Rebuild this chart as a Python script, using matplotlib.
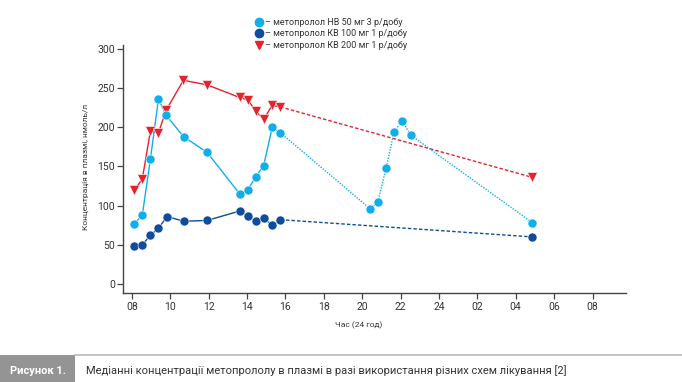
import matplotlib
matplotlib.use("Agg")
import matplotlib.pyplot as plt
from matplotlib.lines import Line2D
from matplotlib.patches import Rectangle

plt.rcParams['font.family'] = ['Roboto', 'DejaVu Sans']

# години від початку доби (08 = 8, наступна доба 02 = 26 ...)
hours_nv50 = [8.14, 8.55, 8.97, 9.39, 9.8, 10.7, 11.92, 13.62, 14.04, 14.46, 14.87, 15.32, 15.74,
              20.41, 20.81, 21.25, 21.66, 22.08, 22.53, 28.87]
conc_nv50 = [77, 88, 159, 236, 215, 188, 168, 115, 120, 137, 151, 200, 193,
             96, 104, 148, 194, 208, 190, 78]

hours_kv100 = [8.14, 8.55, 8.97, 9.39, 9.84, 10.7, 11.92, 13.62, 14.04, 14.46, 14.87, 15.32, 15.74, 28.87]
conc_kv100 = [48, 50, 62, 71, 86, 80, 81, 93, 87, 80, 84, 75, 82, 60]

hours_kv200 = [8.14, 8.55, 8.97, 9.39, 9.8, 10.69, 11.94, 13.62, 14.04, 14.46, 14.87, 15.31, 15.73, 28.87]
conc_kv200 = [120, 134, 195, 193, 222, 260, 254, 238, 235, 221, 210, 228, 226, 136]

n_solid = 13  # перші 13 точок з'єднані суцільною лінією

x_ticks = [8, 10, 12, 14, 16, 18, 20, 22, 24, 26, 28, 30, 32]
x_ticklabels = ['08', '10', '12', '14', '16', '18', '20', '22', '24', '02', '04', '06', '08']
y_ticks = [0, 50, 100, 150, 200, 250, 300]

labels = ['– метопролол НВ 50 мг 3 р/добу',
          '– метопролол КВ 100 мг 1 р/добу',
          '– метопролол КВ 200 мг 1 р/добу']

c_light = '#12aeea'
c_dark = '#0f4c9c'
c_red = '#e8222c'

fig = plt.figure(figsize=(6.82, 3.82), dpi=100)
ax = fig.add_axes([0.1808, 0.2322, 0.7367, 0.65])

def draw(h, c, color, marker, ms, dash_style):
    ax.plot(h[:n_solid], c[:n_solid], color=color, lw=1.0, zorder=2)
    ax.plot(h[n_solid - 1:], c[n_solid - 1:], color=color, lw=1.0, linestyle=dash_style, zorder=2)
    ax.plot(h, c, linestyle='none', marker=marker, ms=ms, color=color,
            markeredgecolor='white', markeredgewidth=0.4, zorder=3)

draw(hours_kv200, conc_kv200, c_red, 'v', 6.5, (0, (2.5, 1.5)))
draw(hours_nv50, conc_nv50, c_light, 'o', 6.5, (0, (1, 1)))
draw(hours_kv100, conc_kv100, c_dark, 'o', 6.5, (0, (2.5, 1.5)))

ax.set_xlim(7.56, 33.73)
ax.set_ylim(-12, 305)
ax.set_xticks(x_ticks)
ax.set_xticklabels(x_ticklabels)
ax.set_yticks(y_ticks)
for s in ['top', 'right']:
    ax.spines[s].set_visible(False)
for s in ['left', 'bottom']:
    ax.spines[s].set_color('#444444')
    ax.spines[s].set_linewidth(1.0)
ax.tick_params(axis='both', colors='#444444', labelcolor='#333333', labelsize=7.5,
               length=4, width=0.9, direction='out', pad=2)

ax.set_xlabel('Час (24 год)', fontsize=6, color='#333333', labelpad=7, x=0.468)
ax.set_ylabel('Концентрація в плазмі, нмоль/л', fontsize=6, color='#333333', labelpad=6, y=0.51)

handles = [Line2D([], [], linestyle='none', marker='o', ms=6, color=c_light),
           Line2D([], [], linestyle='none', marker='o', ms=6, color=c_dark),
           Line2D([], [], linestyle='none', marker='v', ms=6, color=c_red)]
fig.legend(handles, labels, loc='upper left', bbox_to_anchor=(0.369, 0.965),
           frameon=False, fontsize=6.5, handlelength=0.7, handletextpad=0.3,
           labelspacing=0.28, borderpad=0, labelcolor='#333333')

# підпис рисунка
fig.patches.append(Rectangle((0, 0), 75 / 682, 27.5 / 382, transform=fig.transFigure,
                             facecolor='#949494', edgecolor='none'))
fig.lines.append(Line2D([75 / 682, 1], [27.5 / 382, 27.5 / 382], transform=fig.transFigure,
                        color='#bbbbbb', lw=1.2))
fig.text(37.5 / 682, 11 / 382, 'Рисунок 1.', color='white', fontsize=8, fontweight='bold',
         ha='center', va='center')
fig.text(86 / 682, 11 / 382,
         'Медіанні концентрації метопрололу в плазмі в разі використання різних схем лікування [2]',
         color='#333333', fontsize=8, ha='left', va='center')

fig.savefig('out.png', dpi=100)
